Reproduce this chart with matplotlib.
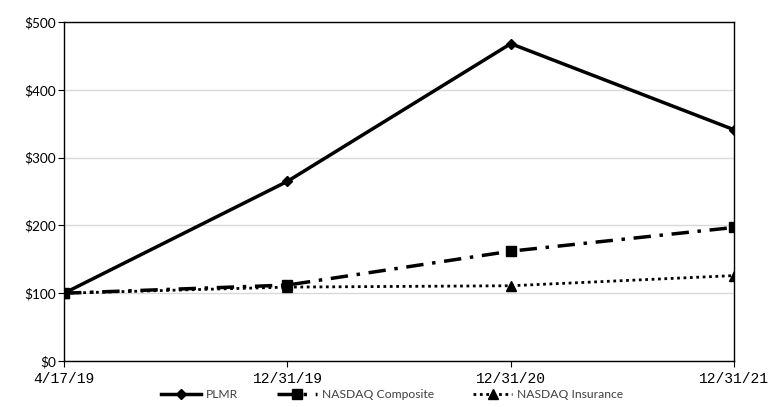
import matplotlib.pyplot as plt
from matplotlib.ticker import FuncFormatter

dates = ["4/17/19", "12/31/19", "12/31/20", "12/31/21"]
plmr = [100, 265, 468, 341]
nasdaq_composite = [100, 112, 162, 197]
nasdaq_insurance = [100, 109, 111, 126]

plt.rcParams["font.family"] = ["Lato", "DejaVu Sans"]

fig = plt.figure(figsize=(7.72, 4.07), dpi=100)
ax = fig.add_axes([0.083, 0.113, 0.868, 0.833])

x = list(range(len(dates)))
ax.plot(x, plmr, color="black", linewidth=2.5, marker="D", markersize=5,
        label="PLMR", zorder=4)
ax.plot(x, nasdaq_composite, color="black", linewidth=2.5,
        linestyle=(0, (5, 2.5, 1, 2.5)), marker="s", markersize=7,
        label="NASDAQ Composite", zorder=3)
ax.plot(x, nasdaq_insurance, color="black", linewidth=2,
        linestyle=(0, (1, 1.3)), marker="^", markersize=7,
        label="NASDAQ Insurance", zorder=2)

ax.set_xlim(0, 3)
ax.set_ylim(0, 500)
ax.set_yticks(range(0, 501, 100))
ax.yaxis.set_major_formatter(FuncFormatter(lambda v, p: f"${v:.0f}"))
ax.set_xticks(x)
ax.set_xticklabels(dates, family="Liberation Mono", fontsize=10.5)

ax.grid(axis="y", color="#d9d9d9", linewidth=1)
ax.set_axisbelow(True)
for s in ax.spines.values():
    s.set_color("black")
    s.set_linewidth(1)
ax.tick_params(axis="y", labelsize=9.8, length=4, color="black", pad=2)
ax.tick_params(axis="x", length=4, color="black", pad=4)

ax.legend(loc="center", bbox_to_anchor=(0.49, -0.1), ncol=3,
          frameon=False, fontsize=8.7, handlelength=3.3, columnspacing=3.2,
          labelcolor="#404040", handletextpad=0.4)

fig.savefig("out.png", dpi=100)
